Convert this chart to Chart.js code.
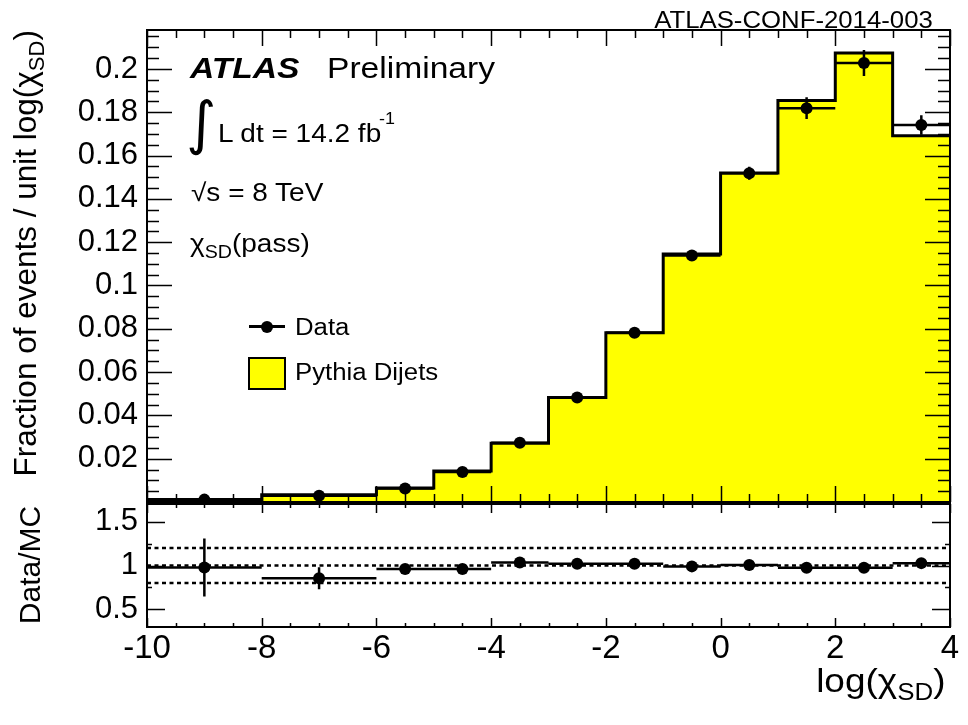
<!DOCTYPE html>
<html>
<head>
<meta charset="utf-8">
<script src="https://cdn.jsdelivr.net/npm/chart.js@4.4.1/dist/chart.umd.min.js"></script>
<style>
  body { margin: 0; background: #fff; }
  #page { position: relative; width: 968px; height: 725px; overflow: hidden; font-family: "Liberation Sans", Arial, sans-serif; color: #000; }
  canvas { position: absolute; left: 0; }
  .t { position: absolute; white-space: nowrap; line-height: 1; transform-origin: 0 50%; transform: scaleX(1.12); }
  .t sub { font-size: 0.7em; vertical-align: -0.35em; line-height: 0; }
  .rot { position: absolute; white-space: nowrap; line-height: 1; transform-origin: 0 0; transform: rotate(-90deg); }
</style>
</head>
<body>
<div id="page">
  <canvas id="mainChart" width="968" height="508" style="top:0"></canvas>
  <canvas id="ratioChart" width="968" height="227" style="top:498px"></canvas>

  <div class="t" style="right:35px;top:9px;font-size:23px;transform-origin:100% 50%;">ATLAS-CONF-2014-003</div>

  <div class="t" style="left:190px;top:53px;font-size:30px;font-weight:bold;font-style:italic;">ATLAS</div>
  <div class="t" style="left:327px;top:53px;font-size:30px;">Preliminary</div>
  <div class="t" style="left:186px;top:94px;font-size:58px;font-family:'DejaVu Sans';transform:none;">&#8747;</div>
  <div class="t" style="left:218px;top:121px;font-size:25px;">L dt = 14.2 fb</div>
  <div class="t" style="left:379px;top:111px;font-size:16px;">-1</div>
  <div class="t" style="left:191px;top:180px;font-size:25px;">&#8730;s = 8 TeV</div>
  <div class="t" style="left:190px;top:231px;font-size:25px;">&#967;<sub>SD</sub>(pass)</div>

  <!-- legend -->
  <div style="position:absolute;left:249px;top:325px;width:36px;height:3px;background:#000;"></div>
  <div style="position:absolute;left:261px;top:321px;width:12px;height:12px;border-radius:50%;background:#000;"></div>
  <div class="t" style="left:295px;top:316px;font-size:23px;">Data</div>
  <div style="position:absolute;left:248px;top:357px;width:34px;height:29px;background:#ffff00;border:2px solid #000;"></div>
  <div class="t" style="left:295px;top:361px;font-size:23px;">Pythia Dijets</div>

  <!-- axis titles -->
  <div class="rot" style="left:10px;top:478px;width:448px;text-align:right;font-size:31.5px;">Fraction of events / unit log(&#967;<sub style="font-size:0.7em;vertical-align:-0.35em;line-height:0;">SD</sub>)</div>
  <div class="rot" style="left:15px;top:625px;width:120px;text-align:center;font-size:30px;">Data/MC</div>
  <div class="t" style="right:23px;top:664px;font-size:33px;transform-origin:100% 50%;">log(&#967;<sub>SD</sub>)</div>
</div>

<script>
// bins in log(chi_SD)
const binEdges = [-10, -8, -6, -5, -4, -3, -2, -1, 0, 1, 2, 3, 4];
// Pythia dijets (MC), fraction of events per unit
const mcValues = [0.0012, 0.0034, 0.0065, 0.0143, 0.0271, 0.0483, 0.0782, 0.1146, 0.1520, 0.1854, 0.2074, 0.1692];
// data
const dataValues = [0.0011, 0.0029, 0.0062, 0.0139, 0.0274, 0.0483, 0.0782, 0.1138, 0.1518, 0.1819, 0.2028, 0.1741];
const dataErrors = [0.0004, 0.0004, 0.0005, 0.0008, 0.0011, 0.0015, 0.002, 0.0025, 0.003, 0.005, 0.006, 0.0045];
// Data/MC
const ratioValues = [0.978, 0.854, 0.96, 0.96, 1.034, 1.02, 1.02, 0.99, 1.005, 0.975, 0.975, 1.027];
const ratioErrors = [0.33, 0.125, 0.02, 0.015, 0.012, 0.01, 0.01, 0.01, 0.01, 0.02, 0.025, 0.025];
const ratioRefLines = [0.8, 1.0, 1.2];

const xTicks = [-10, -8, -6, -4, -2, 0, 2, 4];
const yTicks = [0.02, 0.04, 0.06, 0.08, 0.1, 0.12, 0.14, 0.16, 0.18, 0.2];
const yTickLabels = ['0.02', '0.04', '0.06', '0.08', '0.1', '0.12', '0.14', '0.16', '0.18', '0.2'];
const ratioTicks = [0.5, 1, 1.5];
const ratioTickLabels = ['0.5', '1', '1.5'];

const binCenters = binEdges.slice(0, -1).map((e, i) => (e + binEdges[i + 1]) / 2);
const histPoints = binEdges.map((e, i) => ({ x: e, y: mcValues[Math.min(i, mcValues.length - 1)] }));

const tickFont = { family: 'Liberation Sans', size: 31 };

// keep the plot frame where ROOT put it: no extra room for edge tick labels
const noEdgePadding = s => {
  s.paddingTop = 0; s.paddingBottom = 0; s.paddingLeft = 0; s.paddingRight = 0;
};

// ROOT style frame with inside ticks on all four sides
const frameTicks = {
  id: 'frameTicks',
  afterDraw(chart, args, o) {
    const { ctx, chartArea: a, scales: { x, y } } = chart;
    ctx.save();
    ctx.strokeStyle = '#000';
    ctx.lineWidth = 1.5;
    ctx.beginPath();
    const nx = Math.round((x.max - x.min) / o.xMinor);
    for (let k = 0; k <= nx; k++) {
      const v = x.min + k * o.xMinor;
      const px = Math.round(x.getPixelForValue(v)) + 0.5;
      const major = Math.abs(v / o.xMajor - Math.round(v / o.xMajor)) < 1e-6;
      const len = major ? o.xMajorLen : o.xMinorLen;
      ctx.moveTo(px, a.bottom); ctx.lineTo(px, a.bottom - len);
      ctx.moveTo(px, a.top); ctx.lineTo(px, a.top + len);
    }
    const k0 = Math.ceil(y.min / o.yMinor - 1e-6);
    const k1 = Math.floor(y.max / o.yMinor + 1e-6);
    for (let k = k0; k <= k1; k++) {
      const v = k * o.yMinor;
      const py = Math.round(y.getPixelForValue(v)) + 0.5;
      const major = Math.abs(v / o.yMajor - Math.round(v / o.yMajor)) < 1e-6;
      const len = major ? o.yMajorLen : o.yMinorLen;
      ctx.moveTo(a.left, py); ctx.lineTo(a.left + len, py);
      ctx.moveTo(a.right, py); ctx.lineTo(a.right - len, py);
    }
    ctx.stroke();
    ctx.lineWidth = 2;
    ctx.strokeRect(a.left, a.top, a.right - a.left, a.bottom - a.top);
    ctx.restore();
  }
};

// horizontal (bin width) and vertical (stat) error bars under the markers
const errorBars = {
  id: 'errorBars',
  beforeDatasetDraw(chart, args, o) {
    if (args.index !== o.index) return;
    const { ctx, chartArea: a, scales: { x, y } } = chart;
    ctx.save();
    ctx.beginPath();
    ctx.rect(a.left, a.top, a.right - a.left, a.bottom - a.top);
    ctx.clip();
    ctx.strokeStyle = '#000';
    ctx.lineWidth = o.lineWidth;
    ctx.beginPath();
    o.values.forEach((v, i) => {
      const yp = y.getPixelForValue(v);
      const xc = x.getPixelForValue(binCenters[i]);
      ctx.moveTo(x.getPixelForValue(binEdges[i]), yp);
      ctx.lineTo(x.getPixelForValue(binEdges[i + 1]), yp);
      ctx.moveTo(xc, y.getPixelForValue(v - o.errors[i]));
      ctx.lineTo(xc, y.getPixelForValue(v + o.errors[i]));
    });
    ctx.stroke();
    ctx.restore();
  }
};

new Chart(document.getElementById('mainChart'), {
  type: 'line',
  data: {
    datasets: [{
      label: 'Pythia Dijets',
      data: histPoints,
      stepped: true,
      borderColor: '#000',
      borderWidth: 3,
      backgroundColor: '#ffff00',
      fill: 'origin',
      pointRadius: 0,
      order: 2
    }, {
      type: 'scatter',
      label: 'Data',
      data: binCenters.map((c, i) => ({ x: c, y: dataValues[i] })),
      pointRadius: 6,
      pointBackgroundColor: '#000',
      pointBorderColor: '#000',
      pointBorderWidth: 0,
      order: 1
    }]
  },
  options: {
    responsive: false,
    animation: false,
    events: [],
    layout: { padding: { top: 30, right: 18, bottom: 2, left: 0 } },
    plugins: {
      legend: { display: false },
      tooltip: { enabled: false },
      errorBars: { index: 1, values: dataValues, errors: dataErrors, lineWidth: 2.5 },
      frameTicks: { xMinor: 0.5, xMajor: 2, xMajorLen: 16, xMinorLen: 8, yMinor: 0.005, yMajor: 0.02, yMajorLen: 25, yMinorLen: 12 }
    },
    scales: {
      x: { type: 'linear', min: -10, max: 4, display: false },
      y: {
        type: 'linear', min: 0, max: 0.218,
        afterBuildTicks: s => { s.ticks = yTicks.map(v => ({ value: v })); },
        afterFit: s => { s.width = 147; noEdgePadding(s); },
        grid: { display: false, drawTicks: false },
        border: { display: false },
        ticks: { font: tickFont, color: '#000', padding: 9, callback: (v, i) => yTickLabels[i] }
      }
    }
  },
  plugins: [frameTicks, errorBars]
});

new Chart(document.getElementById('ratioChart'), {
  type: 'line',
  data: {
    datasets: ratioRefLines.map(r => ({
      data: [{ x: -10, y: r }, { x: 4, y: r }],
      borderColor: '#000',
      borderWidth: 2.5,
      borderDash: [4, 3.5],
      pointRadius: 0,
      fill: false,
      order: 3
    })).concat([{
      type: 'scatter',
      label: 'Data/MC',
      data: binCenters.map((c, i) => ({ x: c, y: ratioValues[i] })),
      pointRadius: 6,
      pointBackgroundColor: '#000',
      pointBorderColor: '#000',
      pointBorderWidth: 0,
      order: 1
    }])
  },
  options: {
    responsive: false,
    animation: false,
    events: [],
    layout: { padding: { top: 1, right: 18, bottom: 0, left: 0 } },
    plugins: {
      legend: { display: false },
      tooltip: { enabled: false },
      errorBars: { index: 3, values: ratioValues, errors: ratioErrors, lineWidth: 2.5 },
      frameTicks: { xMinor: 0.5, xMajor: 2, xMajorLen: 9, xMinorLen: 4, yMinor: 0.25, yMajor: 0.5, yMajorLen: 18, yMinorLen: 5 }
    },
    scales: {
      x: {
        type: 'linear', min: -10, max: 4,
        afterBuildTicks: s => { s.ticks = xTicks.map(v => ({ value: v })); },
        afterFit: s => { s.height = 98; noEdgePadding(s); },
        grid: { display: false, drawTicks: false },
        border: { display: false },
        ticks: { font: { family: 'Liberation Sans', size: 33 }, color: '#000', padding: 2, autoSkip: false, maxRotation: 0, callback: v => String(v) }
      },
      y: {
        type: 'linear', min: 0.3, max: 1.7,
        afterBuildTicks: s => { s.ticks = ratioTicks.map(v => ({ value: v })); },
        afterFit: s => { s.width = 147; noEdgePadding(s); },
        grid: { display: false, drawTicks: false },
        border: { display: false },
        ticks: { font: tickFont, color: '#000', padding: 9, callback: (v, i) => ratioTickLabels[i] }
      }
    }
  },
  plugins: [frameTicks, errorBars]
});
</script>
</body>
</html>
